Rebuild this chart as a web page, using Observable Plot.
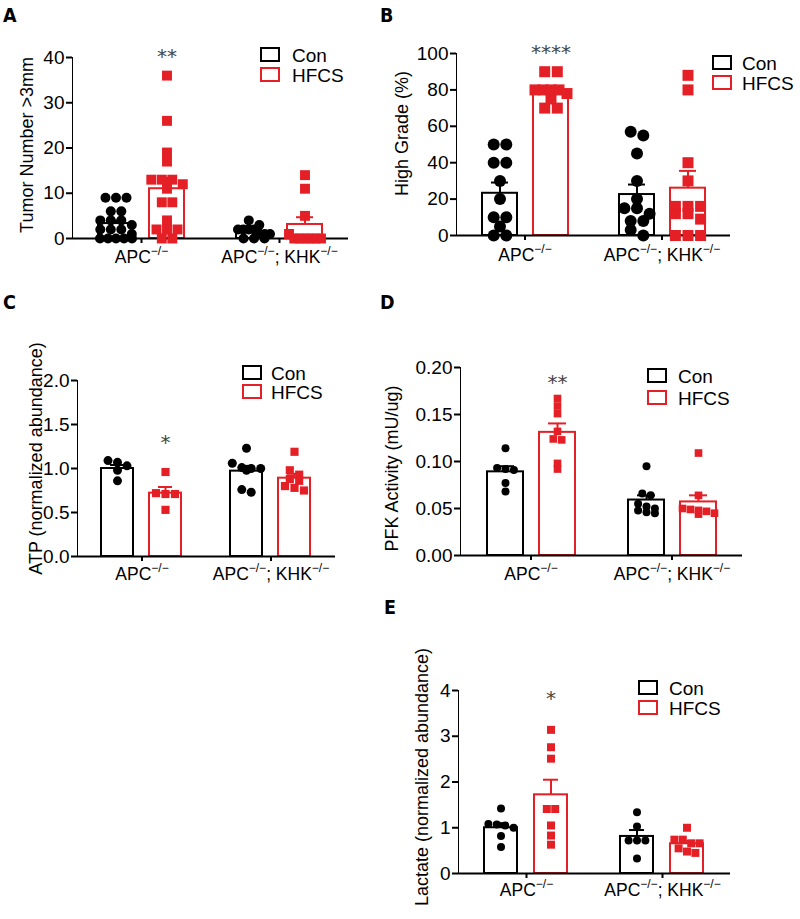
<!DOCTYPE html>
<html>
<head>
<meta charset="utf-8">
<script src="https://cdn.jsdelivr.net/npm/d3@7"></script>
<script src="https://cdn.jsdelivr.net/npm/@observablehq/plot@0.6"></script>
<style>
  body { margin: 0; background: #fff; }
  #fig { position: relative; width: 800px; height: 919px; overflow: hidden; background: #fff;
         font-family: "Liberation Sans", Arial, sans-serif; color: #000; }
  .panel { position: absolute; }
  .panel svg { overflow: visible; }
  .letter { position: absolute; font-family: "Liberation Sans Narrow", "DejaVu Sans Condensed", "Liberation Sans", sans-serif;
            font-weight: bold; font-size: 19.5px; line-height: 1; }
  .legend { position: absolute; }
  .legend .item { position: absolute; left: 0; display: flex; align-items: center; height: 15px; white-space: nowrap; }
  .legend .box { box-sizing: border-box; width: 20px; height: 15px; border: 2px solid #000; background: #fff; }
  .legend span { font-size: 19px; line-height: 15px; padding-top: 2px; }
</style>
</head>
<body>
<div id="fig"></div>
<script>
// ---------- shared categories ----------
const genotypes = ["APC", "APC;KHK"];
const genotypeLabels = ["APC−/−", "APC−/−; KHK−/−"];
const diets = ["Con", "HFCS"];
const dietColors = ["#000000", "#e41f26"];

// ---------- Panel A: Tumor Number >3mm ----------
const tumorLabel = "Tumor Number >3mm";
const tumorTicks = [0, 10, 20, 30, 40];
const tumorApcCon = [9, 9, 9, 6, 6, 4, 4, 4, 3, 2, 2, 2, 1, 0, 0, 0, 0, 0];
const tumorApcHfcs = [36, 26, 19, 17, 13, 13, 13, 12, 11, 8, 8, 4, 2, 2, 2, 0, 0];
const tumorKhkCon = [4, 3, 2, 2, 2, 2, 1, 1, 1, 0, 0, 0];
const tumorKhkHfcs = [14, 11, 5, 1, 0, 0, 0, 0, 0, 0];
const tumorMean = [3.3, 11.0, 1.5, 3.1];   // APC Con, APC HFCS, KHK Con, KHK HFCS
const tumorSem = [0.7, 2.4, 0.4, 1.6];
const tumorStarText = "**";
const tumorStarY = 40.2;

// ---------- Panel B: High Grade (%) ----------
const gradeLabel = "High Grade (%)";
const gradeTicks = [0, 20, 40, 60, 80, 100];
const gradeApcCon = [50, 50, 40, 40, 30, 20, 10, 10, 5, 0, 0];
const gradeApcHfcs = [90, 90, 80, 80, 80, 80, 78, 75, 70, 70];
const gradeKhkCon = [57, 55, 45, 30, 20, 15, 15, 12, 8, 8, 3, 0];
const gradeKhkHfcs = [88, 80, 40, 30, 16, 16, 16, 12, 12, 9, 0, 0, 0];
const gradeMean = [23.2, 79.3, 22.5, 26];
const gradeSem = [5.9, 2.3, 5.5, 9.5];
const gradeStarText = "****";
const gradeStarY = 100.5;

// ---------- Panel C: ATP ----------
const atpLabel = "ATP (normalized abundance)";
const atpTicks = [0, 0.5, 1.0, 1.5, 2.0];
const atpApcCon = [1.07, 1.09, 1.03, 0.98, 0.86];
const atpApcHfcs = [0.96, 0.72, 0.71, 0.71, 0.53];
const atpKhkCon = [1.23, 1.06, 1.01, 1.0, 1.0, 0.98, 0.76, 0.73];
const atpKhkHfcs = [1.19, 0.98, 0.93, 0.88, 0.86, 0.80, 0.78, 0.75];
const atpMean = [1.0, 0.72, 0.97, 0.89];
const atpSem = [0.04, 0.07, 0.06, 0.05];
const atpStarText = "*";
const atpStarY = 1.30;

// ---------- Panel D: PFK Activity ----------
const pfkLabel = "PFK Activity (mU/ug)";
const pfkTicks = [0, 0.05, 0.10, 0.15, 0.20];
const pfkApcCon = [0.114, 0.093, 0.092, 0.091, 0.077, 0.068];
const pfkApcHfcs = [0.167, 0.159, 0.151, 0.132, 0.124, 0.123, 0.098, 0.092];
const pfkKhkCon = [0.095, 0.066, 0.064, 0.055, 0.052, 0.050, 0.048, 0.046, 0.045];
const pfkKhkHfcs = [0.109, 0.064, 0.050, 0.049, 0.048, 0.047, 0.045, 0.044];
const pfkMean = [0.089, 0.131, 0.059, 0.057];
const pfkSem = [0.006, 0.0095, 0.005, 0.007];
const pfkStarText = "**";
const pfkStarY = 0.1835;

// ---------- Panel E: Lactate ----------
const lacLabel = "Lactate (normalized abundance)";
const lacTicks = [0, 1, 2, 3, 4];
const lacApcCon = [1.42, 1.08, 1.07, 1.05, 1.0, 0.82, 0.58];
const lacApcHfcs = [3.14, 2.76, 2.51, 1.41, 1.41, 1.05, 0.83, 0.63];
const lacKhkCon = [1.34, 1.03, 0.72, 0.72, 0.72, 0.33];
const lacKhkHfcs = [1.0, 0.74, 0.74, 0.66, 0.66, 0.55, 0.48, 0.45];
const lacMean = [1.0, 1.72, 0.81, 0.65];
const lacSem = [0.10, 0.33, 0.14, 0.06];
const lacStarText = "*";
const lacStarY = 3.83;

// ---------- layout (not data) ----------
const panels = [
  {key: "A", label: tumorLabel, ticks: tumorTicks, fmt: d3.format("d"),
   groups: [[tumorApcCon, tumorApcHfcs], [tumorKhkCon, tumorKhkHfcs]], mean: tumorMean, sem: tumorSem,
   starText: tumorStarText, starY: tumorStarY,
   left: 0, top: 0, width: 400, height: 280, ml: 72, mr: 52, mt: 57, mb: 42, labelOffset: 52, labelShift: -3,
   fxPad: 0, xIn: 0.32, xOut: 0.5, rC: 5, rS: 5.6, catPad: 7,
   letter: [3, 8], legend: [260, 47, 20, 12]},
  {key: "B", label: gradeLabel, ticks: gradeTicks, fmt: d3.format("d"),
   groups: [[gradeApcCon, gradeApcHfcs], [gradeKhkCon, gradeKhkHfcs]], mean: gradeMean, sem: gradeSem,
   starText: gradeStarText, starY: gradeStarY,
   left: 400, top: 0, width: 400, height: 280, ml: 55, mr: 70, mt: 53, mb: 45, labelOffset: 61, labelShift: -11,
   fxPad: 0, xIn: 0.32, xOut: 0.5, rC: 6, rS: 6.2, catPad: 8,
   letter: [380, 8], legend: [712, 55, 20, 10]},
  {key: "C", label: atpLabel, ticks: atpTicks, fmt: d3.format(".1f"),
   groups: [[atpApcCon, atpApcHfcs], [atpKhkCon, atpKhkHfcs]], mean: atpMean, sem: atpSem,
   starText: atpStarText, starY: atpStarY,
   left: 0, top: 290, width: 400, height: 310, ml: 68, mr: 57, mt: 90, mb: 44, labelOffset: 48, labelShift: -10,
   fxPad: 0.058, xIn: 0.327, xOut: 0.49, rC: 4.5, rS: 4.6, catPad: 6,
   letter: [3, 295], legend: [242, 365, 19, 9]},
  {key: "D", label: pfkLabel, ticks: pfkTicks, fmt: d3.format(".2f"),
   groups: [[pfkApcCon, pfkApcHfcs], [pfkKhkCon, pfkKhkHfcs]], mean: pfkMean, sem: pfkSem,
   starText: pfkStarText, starY: pfkStarY,
   left: 400, top: 290, width: 400, height: 310, ml: 58, mr: 57, mt: 77, mb: 45, labelOffset: 75, labelShift: 7,
   fxPad: 0.01, xIn: 0.317, xOut: 0.51, rC: 4, rS: 4.3, catPad: 7,
   letter: [380, 295], legend: [647, 368, 22, 11]},
  {key: "E", label: lacLabel, ticks: lacTicks, fmt: d3.format("d"),
   groups: [[lacApcCon, lacApcHfcs], [lacKhkCon, lacKhkHfcs]], mean: lacMean, sem: lacSem,
   starText: lacStarText, starY: lacStarY,
   left: 400, top: 590, width: 400, height: 329, ml: 57, mr: 70, mt: 100, mb: 46, labelOffset: 43, labelShift: -5,
   fxPad: 0, xIn: 0.333, xOut: 0.505, rC: 4, rS: 4.5, catPad: 5,
   letter: [384, 600], legend: [638, 680, 20, 11]}
];

// spread points of equal value horizontally (scatter-dot-plot style)
function spread(values, pxPerUnit, diam, maxSpread) {
  const sorted = values.map(v => ({v})).sort((a, b) => b.v - a.v);
  const rows = [];
  for (const p of sorted) {
    const row = rows[rows.length - 1];
    if (row && (row[0].v - p.v) * pxPerUnit < 0.6 * diam) row.push(p); else rows.push([p]);
  }
  for (const row of rows) {
    const n = row.length;
    const sp = n > 1 ? Math.min(diam * 1.05, maxSpread / (n - 1)) : 0;
    row.forEach((p, i) => { p.dx = Math.round((i - (n - 1) / 2) * sp * 10) / 10; });
  }
  return sorted;
}

const fig = d3.select("#fig");

for (const P of panels) {
  const yMax = P.ticks[P.ticks.length - 1];
  const pxPerUnit = (P.height - P.mt - P.mb) / yMax;
  const summary = [];
  const dotMarks = [];
  genotypes.forEach((g, gi) => diets.forEach((d, di) => {
    summary.push({genotype: g, diet: d, mean: P.mean[gi * 2 + di], sem: P.sem[gi * 2 + di]});
    const r = di === 0 ? P.rC : P.rS;
    const pts = spread(P.groups[gi][di], pxPerUnit, 2 * P.rC, 32);
    const byDx = d3.group(pts, p => p.dx);
    for (const [dx, arr] of byDx) {
      dotMarks.push(Plot.dot(arr.map(p => ({genotype: g, diet: d, value: p.v})), {
        fx: "genotype", x: "diet", y: "value", dx, r,
        symbol: di === 0 ? "circle" : "square", fill: "diet", stroke: "none"
      }));
    }
  }));
  const starData = [{genotype: "APC", diet: "HFCS", y: P.starY, text: P.starText}];

  const svg = Plot.plot({
    width: P.width, height: P.height,
    marginLeft: P.ml, marginRight: P.mr, marginTop: P.mt, marginBottom: P.mb,
    style: {fontFamily: "'Liberation Sans', Arial, sans-serif", fontSize: "18px", background: "transparent", color: "#000"},
    fx: {domain: genotypes, paddingInner: 0, paddingOuter: P.fxPad, axis: "bottom", label: null,
         tickSize: 5, tickPadding: P.catPad, tickFormat: g => genotypeLabels[genotypes.indexOf(g)]},
    x: {domain: diets, paddingInner: P.xIn, paddingOuter: P.xOut, axis: null},
    y: {domain: [0, yMax], ticks: P.ticks, tickFormat: P.fmt, tickSize: 6, tickPadding: 2, line: true,
        label: P.label, labelAnchor: "center", labelOffset: P.labelOffset, labelArrow: "none", axis: "left"},
    color: {domain: diets, range: dietColors},
    marks: [
      Plot.barY(summary, {fx: "genotype", x: "diet", y: "mean", fill: "white", stroke: "diet", strokeWidth: 2}),
      Plot.ruleY([0], {strokeWidth: 2}),
      ...dotMarks,
      Plot.ruleX(summary, {fx: "genotype", x: "diet", y1: "mean", y2: d => d.mean + d.sem, stroke: "diet", strokeWidth: 2}),
      Plot.tickY(summary, {fx: "genotype", x: "diet", y: d => d.mean + d.sem, stroke: "diet", strokeWidth: 2, inset: 9}),
      Plot.text(starData, {fx: "genotype", x: "diet", y: "y", text: "text", fontFamily: "DejaVu Sans", fontSize: 20, fill: "#444"})
    ]
  });

  const s = d3.select(svg);
  s.selectAll("g[aria-label]").filter(function () {
    const a = this.getAttribute("aria-label");
    return /^(y|fx)-axis/.test(a) && !/label/.test(a);
  }).attr("stroke-width", 2);
  s.selectAll('g[aria-label="y-axis tick label"]').attr("font-size", 19);

  // shift the rotated y-axis title along the axis
  s.selectAll("text").filter(function () { return this.textContent === P.label; }).each(function () {
    const old = this.getAttribute("transform") || "";
    this.setAttribute("transform", `translate(0,${P.labelShift}) ${old}`);
  });

  // superscript "−/−"
  s.selectAll("text").each(function () {
    const t = this.textContent;
    if (!t.includes("−/−")) return;
    const el = d3.select(this);
    el.text(null).attr("font-size", 17.5);
    const parts = t.split("−/−");
    let raised = false;
    parts.forEach((p, i) => {
      if (p) {
        const ts = el.append("tspan").text(p);
        if (raised) { ts.attr("dy", 8); raised = false; }
      }
      if (i < parts.length - 1) {
        el.append("tspan").attr("font-size", 12).attr("dy", -8).text("−/−");
        raised = true;
      }
    });
  });

  fig.append("div").attr("class", "panel")
    .style("left", P.left + "px").style("top", P.top + "px")
    .node().appendChild(svg);

  fig.append("div").attr("class", "letter")
    .style("left", P.letter[0] + "px").style("top", (P.letter[1] - 2.5) + "px")
    .text(P.key);

  const lg = fig.append("div").attr("class", "legend")
    .style("left", P.legend[0] + "px").style("top", P.legend[1] + "px");
  diets.forEach((d, i) => {
    const item = lg.append("div").attr("class", "item").style("top", (i * P.legend[2]) + "px");
    item.append("div").attr("class", "box").style("border-color", dietColors[i]);
    item.append("span").style("margin-left", P.legend[3] + "px").text(d);
  });
}
</script>
</body>
</html>
